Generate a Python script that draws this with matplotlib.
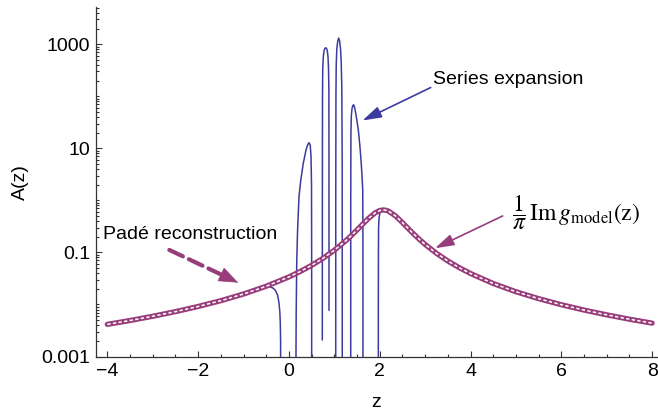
import numpy as np
import matplotlib.pyplot as plt
from matplotlib.ticker import MultipleLocator, NullFormatter

plt.rcParams['font.family'] = ['Liberation Sans', 'DejaVu Sans']
plt.rcParams['mathtext.fontset'] = 'stix'

BLUE = '#3c3c9e'
MAGENTA = '#983c7a'
AXIS = '#333333'

# (1/pi) Im g_model(z)
model_z = [-4, -3.5, -3, -2.5, -2, -1.5, -1, -0.5, 0, 0.25, 0.5, 0.75, 1, 1.25,
           1.375, 1.5, 1.625, 1.75, 1.9, 2.0, 2.08, 2.15, 2.2, 2.35, 2.5, 2.625,
           2.75, 2.875, 3, 3.25, 3.5, 3.75, 4, 4.5, 5, 5.5, 6, 6.5, 7, 7.5, 8]
model_a = [0.00415, 0.00492, 0.00593, 0.00728, 0.00915, 0.01183, 0.01588, 0.0224,
           0.0338, 0.0431, 0.0565, 0.0770, 0.1102, 0.1671, 0.2108, 0.2701, 0.3491,
           0.4487, 0.5769, 0.6390, 0.6564, 0.6430, 0.6185, 0.5011, 0.3751, 0.2901,
           0.2257, 0.1780, 0.1427, 0.0962, 0.0686, 0.0511, 0.0394, 0.0253, 0.0176,
           0.01294, 0.00990, 0.00781, 0.00632, 0.00521, 0.00438]

# series expansion between z=-0.5 and z=2.2 (positive lobes, nan = negative part)
lobes_z = [-0.45, -0.40, -0.35, -0.30, -0.25, -0.22, -0.20, -0.19, -0.183, -0.18, np.nan,
           0.155, 0.156, 0.160, 0.172, 0.190, 0.222, 0.260, 0.317, 0.377, 0.415,
           0.443, 0.470, 0.487, 0.498, 0.501, 0.502, np.nan,
           0.7357, 0.737, 0.740, 0.745, 0.758, 0.775, 0.795, 0.817, 0.838, 0.852, 0.862,
           0.872, 0.880, 0.8825, 0.883, np.nan,
           1.031, 1.032, 1.036, 1.042, 1.055, 1.075, 1.097, 1.118, 1.138, 1.152, 1.165,
           1.174, 1.176, np.nan,
           1.361, 1.362, 1.366, 1.375, 1.39, 1.41, 1.427, 1.45, 1.49, 1.529, 1.56, 1.588,
           1.61, 1.626, 1.630, 1.632, np.nan,
           1.969, 1.970, 1.972, 1.975, 1.985, 2.0, 2.02, 2.05, 2.08, 2.15]
lobes_a = [0.0222, 0.0216, 0.0206, 0.0188, 0.0152, 0.0110, 0.0072, 0.0045, 0.002, 1e-6, np.nan,
           1e-6, 0.0012, 0.006, 0.063, 0.25, 1.17, 2.4, 5.2, 9.3, 11.8,
           12.9, 11.5, 7.0, 2.0, 0.1, 1e-6, np.nan,
           0.0021, 1.0, 100, 330, 580, 760, 840, 855, 800, 680, 560,
           350, 150, 10, 0.0078, np.nan,
           1e-6, 1.0, 100, 400, 800, 1150, 1320, 1150, 800, 450, 150,
           5, 1e-6, np.nan,
           1e-6, 1.0, 20, 42, 58, 67, 68.7, 60, 38, 22.7, 12, 6.0,
           3.0, 1.6, 0.3, 1e-6, np.nan,
           1e-6, 0.01, 0.1, 0.3, 0.45, 0.55, 0.61, 0.645, 0.656, 0.643]

x_ticks = [-4, -2, 0, 2, 4, 6, 8]
y_ticks = [1e-3, 1e-1, 1e1, 1e3]
y_ticklabels = ['0.001', '0.1', '10', '1000']

# series follows the model outside the lobe region
series_z = [z for z in model_z if z <= -0.5] + lobes_z + [z for z in model_z if z >= 2.2]
series_a = ([a for z, a in zip(model_z, model_a) if z <= -0.5] + lobes_a
            + [a for z, a in zip(model_z, model_a) if z >= 2.2])

fig = plt.figure(figsize=(6.58, 4.16), dpi=100)
ax = fig.add_axes([0.1459, 0.1430, 0.8526, 0.8401])
ax.set_yscale('log')

ax.plot(series_z, series_a, color=BLUE, lw=1.1, zorder=2)
ax.plot(model_z, model_a, color=MAGENTA, lw=3.8, solid_capstyle='round', zorder=3)
ax.plot(model_z, model_a, color='white', lw=1.1, dashes=(2.2, 1.5), zorder=4)

ax.set_xticks(x_ticks)
ax.xaxis.set_minor_locator(MultipleLocator(0.5))
ax.set_yticks(y_ticks, y_ticklabels)
minor_y = [m * 10.0 ** k for k in range(-3, 4) for m in range(1, 10)
           if m * 10.0 ** k not in y_ticks]
ax.set_yticks(minor_y, minor=True)
ax.yaxis.set_minor_formatter(NullFormatter())

# limits after the ticks, so the tick lists do not widen them
ax.set_xlim(-4.249, 8.108)
ax.set_ylim(1e-3, 5.2e3)

ax.tick_params(which='both', direction='in', color=AXIS, width=0.8, labelsize=14)
ax.tick_params(which='major', length=4.3)
ax.tick_params(which='minor', length=2.2)
ax.tick_params(axis='x', pad=4.5)
ax.tick_params(axis='y', pad=4.3)
for side in ['top', 'right']:
    ax.spines[side].set_visible(False)
for side in ['left', 'bottom']:
    ax.spines[side].set_color(AXIS)
    ax.spines[side].set_linewidth(0.9)

ax.set_xlabel('z', fontsize=14, labelpad=10)
ax.set_ylabel('A(z)', fontsize=14, labelpad=9)


def along(p0, p1, f):
    # point at fraction f along a straight segment on the log axes
    z = p0[0] + f * (p1[0] - p0[0])
    la = np.log10(p0[1]) + f * (np.log10(p1[1]) - np.log10(p0[1]))
    return z, 10 ** la


# Series expansion label
ax.text(3.174, 174, 'Series expansion', fontsize=14, ha='left', va='baseline')
ax.annotate('', xy=(1.621, 34.3), xytext=(3.123, 147.6),
            arrowprops=dict(arrowstyle='-|>,head_length=1.15,head_width=0.35',
                            color=BLUE, lw=1.2, shrinkA=0, shrinkB=0))

# model label
ax.text(4.907, 0.582, r'$\dfrac{1}{\pi}\,\mathrm{Im}\,g_{\mathrm{model}}(\mathrm{z})$',
        fontsize=17, ha='left', va='center')
ax.annotate('', xy=(3.218, 0.1205), xytext=(4.709, 0.503),
            arrowprops=dict(arrowstyle='-|>,head_length=1.15,head_width=0.35',
                            color=MAGENTA, lw=1.2, shrinkA=0, shrinkB=0))

# Pade label with dashed arrow
ax.text(-4.101, 0.1795, 'Padé reconstruction', fontsize=14, ha='left', va='baseline')
pade_start = (-2.634, 0.1117)
pade_tip = (-1.115, 0.02625)
pade_base = along(pade_start, pade_tip, 0.76)
ax.annotate('', xy=pade_base, xytext=pade_start,
            arrowprops=dict(arrowstyle='-', color=MAGENTA, lw=3,
                            linestyle=(0, (3.6, 1.6)), shrinkA=0, shrinkB=0))
ax.annotate('', xy=pade_tip, xytext=along(pade_start, pade_tip, 0.74),
            arrowprops=dict(arrowstyle='-|>,head_length=1.3,head_width=0.5',
                            color=MAGENTA, lw=0.5, shrinkA=0, shrinkB=0))

fig.savefig('out.png', dpi=100, facecolor='white')
